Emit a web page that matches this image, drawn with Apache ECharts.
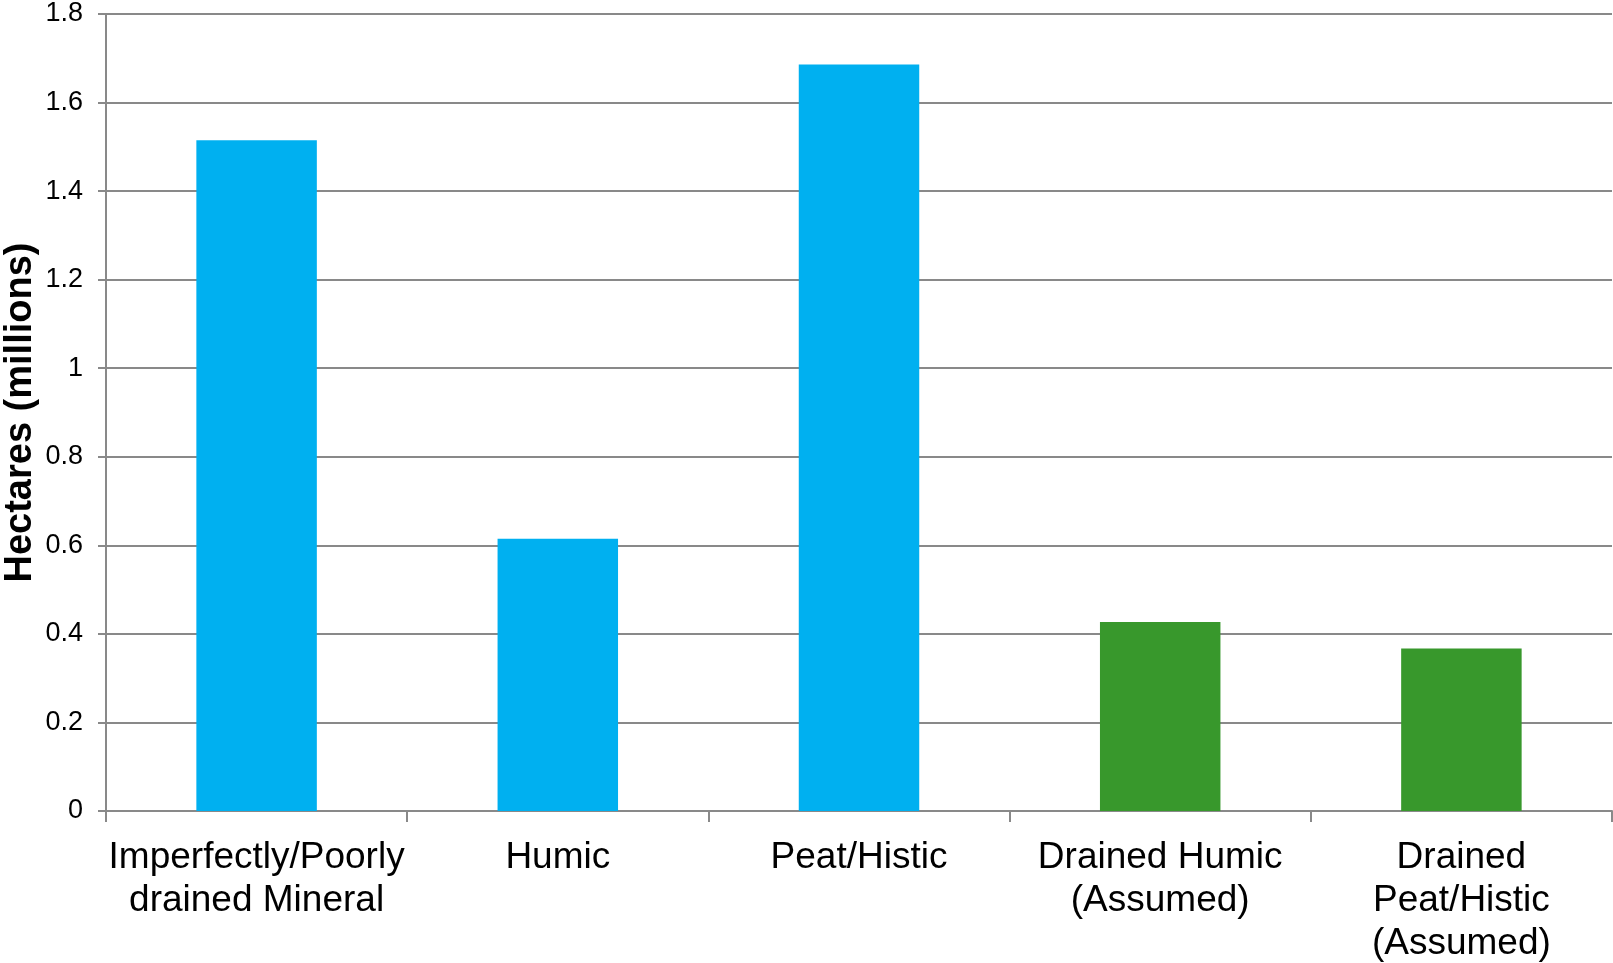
<!DOCTYPE html>
<html>
<head>
<meta charset="utf-8">
<script src="https://cdn.jsdelivr.net/npm/echarts@6/dist/echarts.min.js"></script>
<style>
html,body{margin:0;padding:0;background:#fff;}
#chart{width:1613px;height:963px;}
</style>
</head>
<body>
<div id="chart"></div>
<script>
var categories = [
  "Imperfectly/Poorly\ndrained Mineral",
  "Humic",
  "Peat/Histic",
  "Drained Humic\n(Assumed)",
  "Drained\nPeat/Histic\n(Assumed)"
];
var values = [1.515, 0.615, 1.686, 0.427, 0.367];
var barColors = ["#00B0F0", "#00B0F0", "#00B0F0", "#38982C", "#38982C"];
var yAxisTitle = "Hectares (millions)";

var chart = echarts.init(document.getElementById('chart'));
var font = '"Liberation Sans", Arial, sans-serif';
chart.setOption({
  animation: false,
  backgroundColor: '#ffffff',
  grid: { left: 106, right: 1, top: 14, bottom: 152, containLabel: false, outerBoundsMode: 'none' },
  xAxis: {
    type: 'category',
    data: categories,
    boundaryGap: true,
    axisLine: { show: true, lineStyle: { color: '#898989', width: 2 } },
    axisTick: { show: true, interval: 0, length: 11, lineStyle: { color: '#898989', width: 2 } },
    axisLabel: {
      interval: 0, color: '#000', fontFamily: font, fontSize: 37,
      lineHeight: 43, margin: 25
    },
    splitLine: { show: false }
  },
  yAxis: {
    type: 'value',
    min: 0, max: 1.8, interval: 0.2,
    name: yAxisTitle,
    nameLocation: 'middle',
    nameGap: 66,
    nameMoveOverlap: false,
    nameRotate: 90,
    nameTextStyle: { color: '#000', fontFamily: font, fontSize: 38, lineHeight: 38, fontWeight: 'bold' },
    axisLine: { show: true, lineStyle: { color: '#898989', width: 2 } },
    axisTick: { show: true, length: 8, lineStyle: { color: '#898989', width: 2 } },
    axisLabel: { color: '#000', fontFamily: font, fontSize: 27, margin: 23 },
    splitLine: { show: true, lineStyle: { color: '#898989', width: 2 } }
  },
  series: [{
    type: 'bar',
    data: values.map(function (v, i) { return { value: v, itemStyle: { color: barColors[i] } }; }),
    barWidth: '40%'
  }]
});
</script>
</body>
</html>
